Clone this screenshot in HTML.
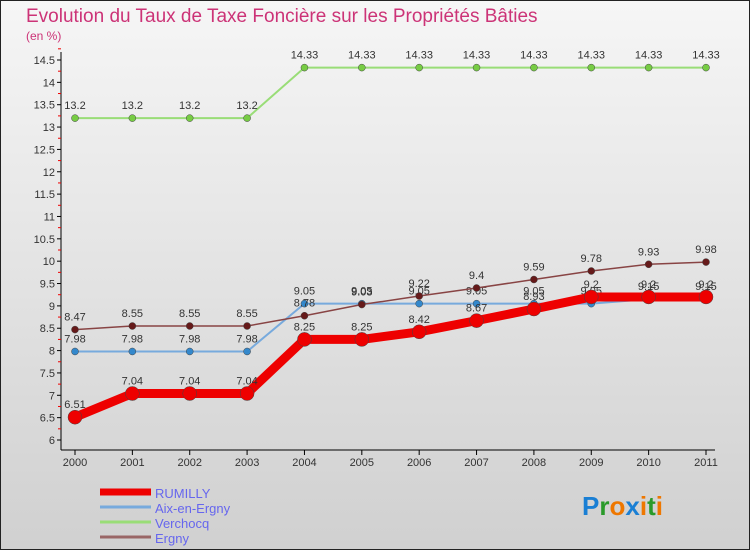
<!DOCTYPE html>
<html><head><meta charset="utf-8"><style>
body{margin:0;width:750px;height:550px;overflow:hidden;font-family:"Liberation Sans",sans-serif}
</style></head><body>
<svg id="c" width="750" height="550" xmlns="http://www.w3.org/2000/svg">
<defs><linearGradient id="bg" x1="0" y1="0" x2="0" y2="1"><stop offset="0" stop-color="#f6f6f6"/><stop offset="1" stop-color="#d0d0d0"/></linearGradient></defs>
<rect x="0.5" y="0.5" width="749" height="549" fill="url(#bg)" stroke="#222"/>
<text x="26" y="22" font-size="19" fill="#cc3377">Evolution du Taux de Taxe Foncière sur les Propriétés Bâties</text>
<text x="26" y="40" font-size="12" fill="#cc3377">(en %)</text>
<g id="g"></g>
</svg>
<script>
const years=["2000","2001","2002","2003","2004","2005","2006","2007","2008","2009","2010","2011"];
const rumilly=[6.51,7.04,7.04,7.04,8.25,8.25,8.42,8.67,8.93,9.2,9.2,9.2];
const aix=[7.98,7.98,7.98,7.98,9.05,9.05,9.05,9.05,9.05,9.05,9.15,9.15];
const verchocq=[13.2,13.2,13.2,13.2,14.33,14.33,14.33,14.33,14.33,14.33,14.33,14.33];
const ergny=[8.47,8.55,8.55,8.55,8.78,9.03,9.22,9.4,9.59,9.78,9.93,9.98];
const yTicks=[6,6.5,7,7.5,8,8.5,9,9.5,10,10.5,11,11.5,12,12.5,13,13.5,14,14.5];
const names=["RUMILLY","Aix-en-Ergny","Verchocq","Ergny"];
const NS="http://www.w3.org/2000/svg";
const g=document.getElementById('g');
const X=i=>75+i*(706-75)/11;
const Y=v=>440-(v-6)*(380/8.5);
function el(t,a,p){const e=document.createElementNS(NS,t);for(const k in a)e.setAttribute(k,a[k]);(p||g).appendChild(e);return e;}
let ax=el('line',{x1:61,y1:52,x2:61,y2:450,stroke:'#000'});


let bx=el('line',{x1:61,y1:450,x2:715,y2:450,stroke:'#000'});


yTicks.forEach(v=>{
 el('line',{x1:57,y1:Y(v),x2:61,y2:Y(v),stroke:'#000'});
 el('line',{x1:58,y1:Y(v+0.25),x2:61,y2:Y(v+0.25),stroke:'#e00'});
 const t=el('text',{x:55,y:Y(v)+4,'text-anchor':'end','font-size':11,fill:'#333'});t.textContent=v;
 
 
});
years.forEach((y,i)=>{
 el('line',{x1:X(i),y1:450,x2:X(i),y2:455,stroke:'#000'});
 const t=el('text',{x:X(i),y:466,'text-anchor':'middle','font-size':11,fill:'#333'});t.textContent=y;
 
 
});
function series(d,col,w,r,dot,name){
 const p=el('polyline',{points:d.map((v,i)=>X(i)+','+Y(v)).join(' '),fill:'none',stroke:col,'stroke-width':w,'stroke-linejoin':'round'});
 
 
 d.forEach((v,i)=>{
  const c=el('circle',{cx:X(i),cy:Y(v),r:r,fill:dot,stroke:'#444','stroke-width':0.5});
  
  
  const t=el('text',{x:X(i),y:Y(v)-9,'text-anchor':'middle','font-size':11,fill:'#333'});t.textContent=v;
  
  
 });
}
series(verchocq,'#99dd77',2,3.5,'#77cc44','verchocq');
series(aix,'#77aadd',2,3.5,'#3388cc','aix-en-ergny');
series(ergny,'#884444',1.5,3.5,'#661a1a','ergny');
series(rumilly,'#ee0000',9,7,'#ee0000','rumilly');
const cols=['#ee0000','#77aadd','#99dd77','#996666'],ws=[7,3,3,3];
names.forEach((n,i)=>{
 const y=498+i*15;
 const l=el('line',{x1:100,y1:y-6,x2:151,y2:y-6,stroke:cols[i],'stroke-width':ws[i]});
 
 
 const t=el('text',{x:155,y:y,'font-size':13,fill:'#6666ee'});t.textContent=n;
 
 
});
const logo=el('text',{x:582,y:515,'font-size':26,'font-weight':'bold'});


[['P','#1a7fd4'],['r','#2a9a2a'],['o','#ee7700'],['x','#1a7fd4'],['i','#ee7700'],['t','#2a9a2a'],['i','#ee7700']].forEach(([c,f])=>{const s=el('tspan',{fill:f},logo);s.textContent=c;});
</script>
</body></html>
